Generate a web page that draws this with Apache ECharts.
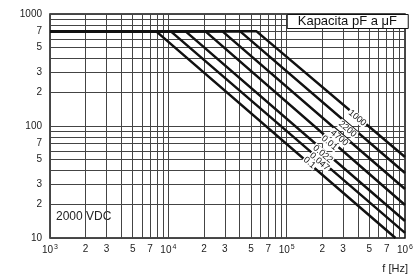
<!DOCTYPE html>
<html>
<head>
<meta charset="utf-8">
<script src="https://cdn.jsdelivr.net/npm/echarts@6/dist/echarts.min.js"></script>
<style>
html, body { margin: 0; padding: 0; background: #fff; }
#chart { width: 416px; height: 275px; }
</style>
</head>
<body>
<div id="chart"></div>
<script>
// capacitance curves (pF / uF), max voltage vs frequency
const capNames = ['1000', '2200', '4700', '0.01', '0.022', '0.047', '0.1'];
const flatVolt = 700;
const startFreq = 1000;
const breakFreq = [55700, 40500, 28700, 20600, 14000, 10500, 7900];
const endFreq = [1000000, 1000000, 1000000, 1000000, 1000000, 1000000, 831000];
const endVolt = [52.8, 38.0, 27.4, 19.7, 14.2, 11.1, 10];
// where the curve names sit on each line
const labelFreq = [396000, 327000, 278600, 229600, 201800, 189500, 156000];
const labelVolt = [117.9, 94, 78.2, 70.5, 56.2, 48, 47];

// axis ticks
const mantGrid = [1, 2, 3, 4, 5, 6, 7, 8, 9];
const mantLabel = [1, 2, 3, 5, 7];
const xDecades = [1000, 10000, 100000];
const yDecades = [10, 100];

let xGrid = [], xLabels = [], yGrid = [], yLabels = [];
xDecades.forEach(d => {
    mantGrid.forEach(m => xGrid.push(d * m));
    mantLabel.forEach(m => xLabels.push(d * m));
});
xGrid.push(1000000); xLabels.push(1000000);
yDecades.forEach(d => {
    mantGrid.forEach(m => yGrid.push(d * m));
    mantLabel.forEach(m => yLabels.push(d * m));
});
yGrid.push(1000); yLabels.push(1000);

function splitVal(v) {
    let e = Math.floor(Math.log10(v) + 1e-9);
    let m = Math.round(v / Math.pow(10, e));
    return { e: e, m: m };
}

let series = capNames.map((name, i) => ({
    name: name,
    type: 'line',
    symbol: 'none',
    silent: true,
    lineStyle: { color: '#111', width: 2.5 },
    data: [[startFreq, flatVolt], [breakFreq[i], flatVolt], [endFreq[i], endVolt[i]]],
    markPoint: {
        symbol: 'rect',
        symbolSize: 0,
        silent: true,
        label: {
            show: true,
            position: 'inside',
            formatter: name,
            rotate: -40,
            color: '#111',
            fontSize: 9,
            fontFamily: 'Liberation Sans',
            backgroundColor: '#fff',
            padding: [0, 1]
        },
        data: [{ coord: [labelFreq[i], labelVolt[i]] }]
    }
}));

let chart = echarts.init(document.getElementById('chart'));
chart.setOption({
    animation: false,
    backgroundColor: '#fff',
    grid: {
        left: 50, right: 8, top: 14, bottom: 37,
        show: true, borderColor: '#111', borderWidth: 1.5, backgroundColor: 'transparent'
    },
    title: {
        text: 'Kapacita pF a μF',
        right: 8,
        top: 14,
        padding: [1, 11, 1, 11],
        borderWidth: 1,
        borderColor: '#111',
        backgroundColor: '#fff',
        textStyle: { fontSize: 13, fontWeight: 'normal', color: '#111', fontFamily: 'Liberation Sans' }
    },
    graphic: [
        { type: 'text', left: 56, top: 211, style: { text: '2000 VDC', fontSize: 12, fill: '#222', fontFamily: 'Liberation Sans' } },
        { type: 'text', right: 8, top: 263, style: { text: 'f [Hz]', fontSize: 11, fill: '#222', fontFamily: 'Liberation Sans' } }
    ],
    xAxis: {
        type: 'log',
        logBase: 10,
        min: 1000,
        max: 1000000,
        axisLine: { show: false },
        axisTick: { show: false, customValues: xGrid },
        splitLine: { show: true, lineStyle: { color: '#444', width: 1 } },
        axisLabel: {
            customValues: xLabels,
            margin: 6,
            color: '#222',
            fontFamily: 'Liberation Sans',
            fontSize: 10,
            formatter: function (v) {
                let s = splitVal(v);
                if (s.m === 1) return '{b|10}{s|' + s.e + '}';
                return '{b|' + s.m + '}';
            },
            rich: {
                b: { fontSize: 10, color: '#222', fontFamily: 'Liberation Sans' },
                s: { fontSize: 7, color: '#222', fontFamily: 'Liberation Sans', padding: [0, 0, 6, 1] }
            }
        }
    },
    yAxis: {
        type: 'log',
        logBase: 10,
        min: 10,
        max: 1000,
        axisLine: { show: false },
        axisTick: { show: false, customValues: yGrid },
        splitLine: { show: true, lineStyle: { color: '#444', width: 1 } },
        axisLabel: {
            customValues: yLabels,
            margin: 8,
            color: '#222',
            fontFamily: 'Liberation Sans',
            fontSize: 10,
            formatter: function (v) {
                let s = splitVal(v);
                if (s.m === 1) return String(Math.round(v));
                return String(s.m);
            }
        }
    },
    series: series
});
</script>
</body>
</html>
